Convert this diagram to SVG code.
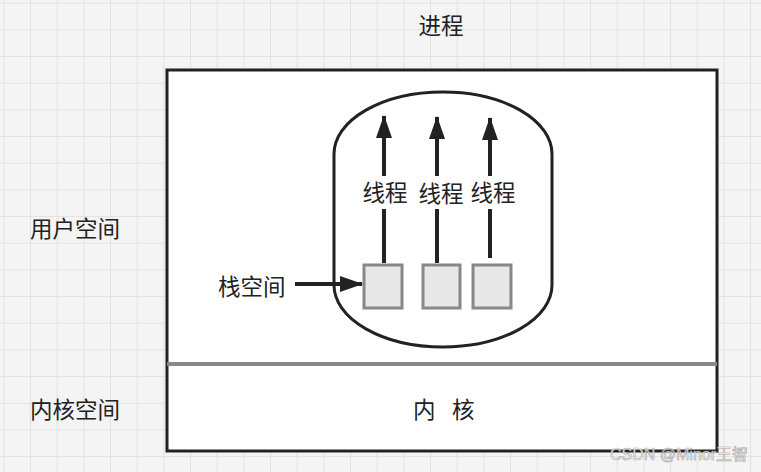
<svg xmlns="http://www.w3.org/2000/svg" width="761" height="472" viewBox="0 0 761 472">
<defs>
<pattern id="grid" x="3.3" y="2.7" width="26.67" height="26.67" patternUnits="userSpaceOnUse">
<rect width="26.67" height="26.67" fill="#f4f4f4"/>
<path d="M0 0H26.67M0 0V26.67" stroke="#e2e2e2" stroke-width="2" fill="none"/>
</pattern>
<marker id="ah" viewBox="0 0 23 16" refX="22" refY="8" markerWidth="23" markerHeight="16" orient="auto" markerUnits="userSpaceOnUse">
<path d="M0 0L23 8L0 16z" fill="#222"/>
</marker>
</defs>
<style>
.t{font-family:"Noto Sans CJK SC","Liberation Sans",sans-serif;font-size:22.5px;fill:#222;}
.ln{stroke:#222;stroke-width:4;fill:none;}
.box{fill:#e8e8e8;stroke:#888;stroke-width:3;}
</style>
<rect width="761" height="472" fill="url(#grid)"/>
<g id="title"><text class="t" x="441" y="34" text-anchor="middle">进程</text></g>
<g id="process">
<rect x="167" y="70" width="550" height="381" fill="#fff" stroke="#222" stroke-width="3"/>
<line x1="167" y1="364" x2="717" y2="364" stroke="#888" stroke-width="4"/>
</g>
<g id="userspace-label"><text class="t" x="30" y="237">用户空间</text></g>
<g id="kernelspace-label"><text class="t" x="30" y="418">内核空间</text></g>
<g id="kernel"><text class="t" x="413" y="418">内</text><text class="t" x="452" y="418">核</text></g>
<g id="threads-container"><rect x="334" y="92" width="218" height="255" rx="109" ry="62" fill="none" stroke="#222" stroke-width="3"/></g>
<g id="stack1"><rect class="box" x="364" y="265" width="38" height="43"/></g>
<g id="stack2"><rect class="box" x="423" y="265" width="37" height="43"/></g>
<g id="stack3"><rect class="box" x="473" y="265" width="38" height="43"/></g>
<g id="stack-label"><text class="t" x="218" y="295">栈空间</text></g>
<g id="connectors">
<line class="ln" x1="384" y1="263" x2="384" y2="209"/>
<line class="ln" x1="384" y1="176" x2="384" y2="116" marker-end="url(#ah)"/>
<line class="ln" x1="437" y1="263" x2="437" y2="209"/>
<line class="ln" x1="437" y1="176" x2="437" y2="117" marker-end="url(#ah)"/>
<line class="ln" x1="490" y1="258" x2="490" y2="209"/>
<line class="ln" x1="490" y1="176" x2="490" y2="118" marker-end="url(#ah)"/>
<line class="ln" x1="295" y1="284" x2="362" y2="284" marker-end="url(#ah)"/>
</g>
<g id="thread-labels">
<text class="t" x="385" y="201" text-anchor="middle">线程</text>
<text class="t" x="441" y="202" text-anchor="middle">线程</text>
<text class="t" x="493" y="201" text-anchor="middle">线程</text>
</g>
<g id="watermark"><text x="610" y="460" font-family="'Liberation Sans','Noto Sans CJK SC',sans-serif" font-size="16" fill="#fff" stroke="#999" stroke-width="0.6" opacity="0.9">CSDN @Minor王智</text></g>
</svg>
